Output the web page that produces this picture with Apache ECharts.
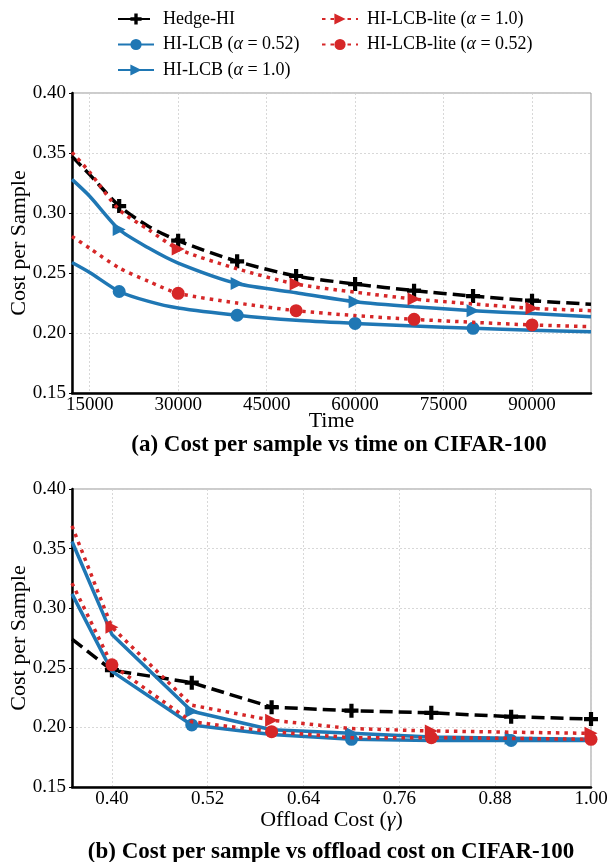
<!DOCTYPE html>
<html>
<head>
<meta charset="utf-8">
<script src="https://cdn.jsdelivr.net/npm/echarts@6/dist/echarts.min.js"></script>
<style>
html,body{margin:0;padding:0;background:#fff;}
#chart{width:610px;height:862px;}
</style>
</head>
<body>
<div id="chart"></div>
<script>
// ---------- data: (a) cost per sample vs time ----------
const timeX = [12000, 15000, 20000, 25000, 30000, 40000, 50000, 60000, 70000, 80000, 90000, 100000];
const hedgeT   = [0.3472, 0.332, 0.3058, 0.2888, 0.2769, 0.2597, 0.2475, 0.2408, 0.2353, 0.2308, 0.2269, 0.224];
const lcb052T  = [0.2588, 0.2505, 0.2346, 0.2263, 0.2208, 0.2148, 0.2106, 0.208, 0.2058, 0.2039, 0.2023, 0.201];
const lcb10T   = [0.328, 0.314, 0.2862, 0.2708, 0.2583, 0.2412, 0.2336, 0.2261, 0.2218, 0.2186, 0.2162, 0.2136];
const lite10T  = [0.3505, 0.334, 0.3027, 0.2861, 0.270, 0.2535, 0.2408, 0.234, 0.2283, 0.2242, 0.2206, 0.2186];
const lite052T = [0.2805, 0.2706, 0.2542, 0.243, 0.2331, 0.225, 0.2186, 0.2145, 0.2114, 0.2089, 0.2067, 0.2053];
const hedgeMarksT = [20000, 30000, 40000, 50000, 60000, 70000, 80000, 90000];
const lcbMarksT   = [20000, 40000, 60000, 80000];
const liteMarksT  = [30000, 50000, 70000, 90000];
const timeTicks = [15000, 30000, 45000, 60000, 75000, 90000];

// ---------- data: (b) cost per sample vs offload cost ----------
const gammaX = [0.35, 0.4, 0.5, 0.6, 0.7, 0.8, 0.9, 1.0];
const hedgeG   = [0.274, 0.248, 0.2375, 0.217, 0.214, 0.2122, 0.209, 0.207];
const lcb052G  = [0.312, 0.247, 0.202, 0.194, 0.190, 0.189, 0.189, 0.189];
const lcb10G   = [0.356, 0.278, 0.2136, 0.198, 0.195, 0.192, 0.191, 0.190];
const lite10G  = [0.369, 0.284, 0.2186, 0.206, 0.199, 0.197, 0.196, 0.195];
const lite052G = [0.321, 0.2525, 0.2047, 0.1964, 0.1914, 0.1914, 0.1908, 0.190];
const hedgeMarksG = [0.4, 0.5, 0.6, 0.7, 0.8, 0.9, 1.0];
const lcbMarksG   = [0.5, 0.7, 0.9];
const liteMarksG  = [0.4, 0.6, 0.8, 1.0];
const gammaTicks = [0.40, 0.52, 0.64, 0.76, 0.88, 1.00];

const names = ['Hedge-HI', 'HI-LCB (α = 0.52)', 'HI-LCB (α = 1.0)', 'HI-LCB-lite (α = 1.0)', 'HI-LCB-lite (α = 0.52)'];
const titleA = '(a) Cost per sample vs time on CIFAR-100';
const titleB = '(b) Cost per sample vs offload cost on CIFAR-100';

// ---------- styling ----------
const FONT = 'Liberation Serif';
const BLACK = '#000000', BLUE = '#1f77b4', RED = '#d62728';
const PLUS = 'path://M35,0H65V35H100V65H65V100H35V65H0V35H35Z';
const TRI = 'path://M0,0L100,50L0,100Z';
const LW = 3.5;

function pts(xs, ys, marks) {
  return xs.map((x, i) => marks.some(m => Math.abs(m - x) < 1e-9)
    ? [x, ys[i]]
    : { value: [x, ys[i]], symbol: 'none' });
}

const styles = [
  { color: BLACK, type: [13, 6], symbol: PLUS, size: 14 },
  { color: BLUE, type: 'solid', symbol: 'circle', size: 13 },
  { color: BLUE, type: 'solid', symbol: TRI, size: 13 },
  { color: RED, type: [3.5, 5], symbol: TRI, size: 13 },
  { color: RED, type: [3.5, 5], symbol: 'circle', size: 13 }
];

function mkSeries(idx, gridIdx, xs, ys, marks, smooth) {
  const s = styles[idx];
  return {
    type: 'line', name: names[idx],
    xAxisIndex: gridIdx, yAxisIndex: gridIdx,
    data: pts(xs, ys, marks),
    smooth: smooth ? 0.25 : false,
    symbol: s.symbol, symbolSize: s.size,
    showSymbol: true, showAllSymbol: true,
    lineStyle: { color: s.color, width: LW, type: s.type, cap: 'butt' },
    itemStyle: { color: s.color, borderWidth: 0 },
    z: 2 + idx,
    animation: false
  };
}

const series = [
  mkSeries(0, 0, timeX, hedgeT, hedgeMarksT, true),
  mkSeries(1, 0, timeX, lcb052T, lcbMarksT, true),
  mkSeries(2, 0, timeX, lcb10T, lcbMarksT, true),
  mkSeries(3, 0, timeX, lite10T, liteMarksT, true),
  mkSeries(4, 0, timeX, lite052T, liteMarksT, true),
  mkSeries(0, 1, gammaX, hedgeG, hedgeMarksG, false),
  mkSeries(1, 1, gammaX, lcb052G, lcbMarksG, false),
  mkSeries(2, 1, gammaX, lcb10G, lcbMarksG, false),
  mkSeries(3, 1, gammaX, lite10G, liteMarksG, false),
  mkSeries(4, 1, gammaX, lite052G, liteMarksG, false)
];

const axisLabelStyle = { fontFamily: FONT, fontSize: 19, color: '#000' };
const nameStyle = { fontFamily: FONT, fontSize: 22, color: '#000', rich: { i: { fontFamily: FONT, fontSize: 22, fontStyle: 'italic', color: '#000' } } };
const splitLine = { show: true, lineStyle: { color: '#cfcfcf', width: 0.8, type: [2, 2] } };

function yAxis(gridIdx) {
  return {
    type: 'value', gridIndex: gridIdx, min: 0.15, max: 0.40, interval: 0.05,
    name: 'Cost per Sample', nameLocation: 'middle', nameGap: 42, nameMoveOverlap: false, nameTextStyle: nameStyle,
    axisLine: { show: true, lineStyle: { color: '#000', width: 2.5 } },
    axisTick: { show: true, length: 3, lineStyle: { color: '#000', width: 1 } },
    axisLabel: Object.assign({ margin: 6, formatter: v => v.toFixed(2) }, axisLabelStyle),
    splitLine: splitLine
  };
}

const legendCommon = {
  orient: 'vertical', top: 5, itemWidth: 36, itemHeight: 14, itemGap: 7.5,
  textStyle: { fontFamily: FONT, fontSize: 18, color: '#000', padding: [0, 0, 0, 4],
    rich: { i: { fontFamily: FONT, fontSize: 18, fontStyle: 'italic', color: '#000' } } },
  formatter: n => n.replace('α', '{i|α}'),
  selectedMode: false
};

const gridCommon = { left: 72, right: 19, show: true, borderColor: '#999', borderWidth: 1, containLabel: false, outerBoundsMode: 'none' };

const option = {
  animation: false,
  backgroundColor: '#ffffff',
  legend: [
    Object.assign({ left: 112, data: [names[0], names[1], names[2]] }, legendCommon),
    Object.assign({ left: 316, data: [names[3], names[4]] }, legendCommon)
  ],
  grid: [
    Object.assign({ top: 93, height: 300 }, gridCommon),
    Object.assign({ top: 489, height: 298 }, gridCommon)
  ],
  xAxis: [
    {
      type: 'value', gridIndex: 0, min: 12000, max: 100000,
      name: 'Time', nameLocation: 'middle', nameGap: 17, nameMoveOverlap: false, nameTextStyle: nameStyle,
      axisLine: { show: true, onZero: false, lineStyle: { color: '#000', width: 2.5 } },
      axisTick: { show: false, customValues: timeTicks },
      axisLabel: Object.assign({ margin: 3, customValues: timeTicks, formatter: v => String(v) }, axisLabelStyle),
      splitLine: splitLine
    },
    {
      type: 'value', gridIndex: 1, min: 0.35, max: 1.0,
      name: 'Offload Cost ({i|γ})', nameLocation: 'middle', nameGap: 22, nameMoveOverlap: false, nameTextStyle: nameStyle,
      axisLine: { show: true, onZero: false, lineStyle: { color: '#000', width: 2.5 } },
      axisTick: { show: false, customValues: gammaTicks },
      axisLabel: Object.assign({ margin: 3, customValues: gammaTicks, formatter: v => v.toFixed(2) }, axisLabelStyle),
      splitLine: splitLine
    }
  ],
  yAxis: [yAxis(0), yAxis(1)],
  graphic: [
    { type: 'text', x: 339, y: 445, style: { text: titleA, fontFamily: FONT, fontSize: 23, fontWeight: 'bold', fill: '#000', align: 'center', verticalAlign: 'middle' } },
    { type: 'text', x: 331, y: 852, style: { text: titleB, fontFamily: FONT, fontSize: 23, fontWeight: 'bold', fill: '#000', align: 'center', verticalAlign: 'middle' } }
  ],
  series: series
};

const chart = echarts.init(document.getElementById('chart'), null, { renderer: 'canvas' });
chart.setOption(option);
</script>
</body>
</html>
